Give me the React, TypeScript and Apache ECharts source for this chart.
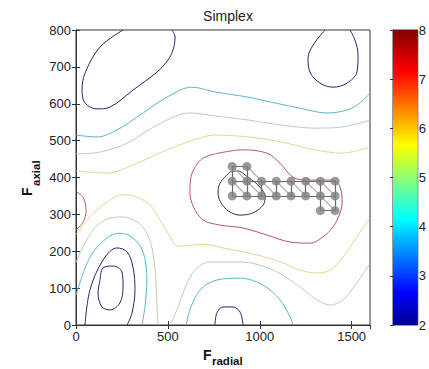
import React, { useEffect, useRef } from "react";
import * as echarts from "echarts";

type P = [number, number];

// ---- axis ticks ----
const xTickInterval = 500;
const xMax = 1600;
const yTickInterval = 100;
const yMax = 800;
const colorbarMin = 2;
const colorbarMax = 8;
const titleText = "Simplex";

// ---- contour lines (data units) ----
const navyTopLeft: P[] = [
  [256, 800], [131, 754], [49, 683], [33, 637], [49, 602], [114, 586], [185, 591],
  [310, 637], [441, 686], [501, 719], [528, 746], [539, 781], [522, 800],
];
const navyTopRight: P[] = [
  [1355, 800], [1290, 759], [1263, 724], [1273, 686], [1328, 656], [1399, 645],
  [1475, 656], [1529, 686], [1535, 732], [1518, 773], [1491, 800],
];
const navyBottomOuter: P[] = [
  [49, 0], [76, 95], [147, 176], [223, 209], [278, 198], [310, 157], [321, 95], [305, 33], [278, 0],
];
const navyBottomInner: P[] = [
  [131, 122], [147, 155], [201, 160], [250, 144], [256, 103], [239, 60], [185, 41], [141, 49], [120, 87], [131, 122],
];
const navyBottomMid: P[] = [
  [756, 0], [767, 33], [800, 49], [854, 49], [893, 35], [909, 0],
];
const cyanUpper: P[] = [
  [0, 515], [114, 510], [223, 529], [365, 575], [495, 618], [631, 645], [756, 632],
  [936, 618], [1056, 605], [1219, 588], [1366, 575], [1475, 583], [1540, 600], [1600, 629],
];
const cyanLowerLeft: P[] = [
  [0, 80], [76, 184], [169, 236], [239, 249], [310, 236], [365, 198], [386, 122], [375, 49], [359, 0],
];
const cyanLowerMid: P[] = [
  [600, 0], [620, 41], [675, 95], [767, 122], [893, 127], [1018, 108], [1110, 68], [1165, 22], [1181, 0],
];
const greenUpper: P[] = [
  [0, 464], [131, 469], [277, 493], [441, 542], [620, 575], [756, 567], [936, 556],
  [1121, 542], [1301, 534], [1448, 537], [1600, 556],
];
const greenLowerLeft: P[] = [
  [0, 170], [93, 258], [185, 290], [256, 293], [332, 279], [386, 249], [419, 195], [435, 122], [441, 49], [446, 0],
];
const greenLowerMid: P[] = [
  [515, 0], [560, 55], [610, 120], [660, 155], [729, 171], [893, 171], [1072, 149], [1219, 103],
  [1312, 68], [1382, 54], [1453, 68], [1529, 114], [1600, 168],
];
const yellowUpper: P[] = [
  [0, 418], [169, 412], [310, 434], [495, 475], [675, 507], [756, 515], [936, 510],
  [1121, 496], [1301, 475], [1448, 466], [1600, 483],
];
const yellowLower: P[] = [
  [0, 245], [76, 293], [169, 334], [256, 353], [332, 347], [403, 325], [457, 285], [512, 239],
  [550, 214], [604, 215], [700, 219], [800, 209], [985, 190], [1127, 168], [1219, 149],
  [1312, 141], [1382, 149], [1453, 184], [1529, 239], [1600, 290],
];
const redLeft: P[] = [
  [0, 362], [40, 345], [55, 310], [40, 280], [0, 258],
];
const redMain: P[] = [
  [756, 464], [909, 475], [1039, 466], [1110, 439], [1181, 401], [1257, 393], [1399, 393],
  [1437, 374], [1448, 331], [1437, 304], [1399, 266], [1344, 239], [1273, 222], [1165, 225],
  [1039, 244], [909, 263], [784, 271], [691, 285], [640, 320], [620, 360], [625, 400],
  [650, 430], [690, 452], [756, 464],
];
const darkInner: P[] = [
  [838, 415], [784, 385], [773, 358], [811, 317], [893, 298], [963, 304], [1018, 325],
  [1029, 347], [1001, 374], [936, 401], [876, 418], [838, 415],
];

// ---- simplex vertices and edges ----
const simplexPoints: P[] = [
  [850, 430], [930, 430],
  [850, 390], [930, 390], [1010, 390], [1090, 390], [1170, 390], [1250, 390], [1330, 390], [1410, 390],
  [850, 350], [930, 350], [1010, 350], [1090, 350], [1170, 350], [1250, 350], [1330, 350], [1410, 350],
  [1330, 310], [1410, 310],
];
const simplexEdges: [number, number, number, number][] = [
  [850, 430, 930, 430],
  [850, 390, 930, 390], [930, 390, 1010, 390], [1010, 390, 1090, 390], [1090, 390, 1170, 390],
  [1170, 390, 1250, 390], [1250, 390, 1330, 390], [1330, 390, 1410, 390],
  [850, 350, 930, 350], [930, 350, 1010, 350], [1010, 350, 1090, 350], [1090, 350, 1170, 350],
  [1170, 350, 1250, 350], [1250, 350, 1330, 350], [1330, 350, 1410, 350],
  [1330, 310, 1410, 310],
  [850, 430, 850, 390], [930, 430, 930, 390],
  [850, 390, 850, 350], [930, 390, 930, 350], [1010, 390, 1010, 350], [1090, 390, 1090, 350],
  [1170, 390, 1170, 350], [1250, 390, 1250, 350], [1330, 390, 1330, 350], [1410, 390, 1410, 350],
  [1330, 350, 1330, 310], [1410, 350, 1410, 310],
];
const simplexDiagonals: [number, number, number, number][] = [
  [850, 430, 930, 390], [930, 430, 1010, 390],
  [850, 390, 930, 350], [930, 390, 1010, 350], [1010, 390, 1090, 350], [1090, 390, 1170, 350],
  [1170, 390, 1250, 350], [1250, 390, 1330, 350], [1330, 390, 1410, 350],
  [1330, 350, 1410, 310],
];

const COLORS = {
  navy: "#26266a",
  cyan: "#58b9c4",
  green: "#b4d4b0",
  yellow: "#e2d88e",
  red: "#b45a5a",
  dark: "#3e3030",
};

const contourGroups: { color: string; paths: P[][] }[] = [
  { color: COLORS.navy, paths: [navyTopLeft, navyTopRight, navyBottomOuter, navyBottomInner, navyBottomMid] },
  { color: COLORS.cyan, paths: [cyanUpper, cyanLowerLeft, cyanLowerMid] },
  { color: COLORS.green, paths: [greenUpper, greenLowerLeft, greenLowerMid] },
  { color: COLORS.yellow, paths: [yellowUpper, yellowLower] },
  { color: COLORS.red, paths: [redLeft, redMain] },
  { color: COLORS.dark, paths: [darkInner] },
];

const FONT = "'Liberation Sans', Arial, Helvetica, sans-serif";

export default function App() {
  const ref = useRef<HTMLDivElement>(null);

  useEffect(() => {
    if (!ref.current) return;
    const chart = echarts.init(ref.current, undefined, { renderer: "svg" });

    const contourSeries: any[] = [];
    contourGroups.forEach((g) => {
      g.paths.forEach((path) => {
        contourSeries.push({
          type: "line",
          xAxisIndex: 0,
          yAxisIndex: 0,
          data: path,
          showSymbol: false,
          symbol: "none",
          smooth: 0.35,
          silent: true,
          clip: true,
          lineStyle: { color: g.color, width: 1 },
          z: 2,
        });
      });
    });

    const jet = [
      { offset: 0, color: "#800000" },
      { offset: 0.14, color: "#ff0000" },
      { offset: 0.39, color: "#ffff00" },
      { offset: 0.64, color: "#00ffff" },
      { offset: 0.89, color: "#0000ff" },
      { offset: 1, color: "#00008f" },
    ];

    const axisLineStyle = { color: "#333", width: 1 };
    const plain = (v: number) => String(v);

    chart.setOption({
      animation: false,
      backgroundColor: "#fff",
      title: {
        text: titleText,
        left: 223,
        top: 4,
        textAlign: "center",
        textStyle: { fontFamily: FONT, fontSize: 14, fontWeight: "normal", color: "#222" },
      },
      grid: [
        { left: 76, top: 30, width: 294, height: 295, show: true, borderColor: "#333", borderWidth: 1, backgroundColor: "#fff" },
        { left: 393, top: 30, width: 30, height: 295, show: true, borderColor: "#333", borderWidth: 1 },
      ],
      xAxis: [
        {
          gridIndex: 0, type: "value", min: 0, max: xMax, interval: xTickInterval, position: "bottom",
          axisLine: { show: true, lineStyle: axisLineStyle },
          axisTick: { show: true, inside: true, length: 4, lineStyle: axisLineStyle },
          axisLabel: { show: true, fontFamily: FONT, fontSize: 13, color: "#222", margin: 5, showMaxLabel: false, formatter: plain },
          splitLine: { show: false },
        },
        {
          gridIndex: 0, type: "value", min: 0, max: xMax, interval: xTickInterval, position: "top",
          axisLine: { show: true, lineStyle: axisLineStyle },
          axisTick: { show: true, inside: true, length: 4, lineStyle: axisLineStyle },
          axisLabel: { show: false },
          splitLine: { show: false },
        },
        {
          gridIndex: 1, type: "value", min: 0, max: 1, show: false,
        },
      ],
      yAxis: [
        {
          gridIndex: 0, type: "value", min: 0, max: yMax, interval: yTickInterval, position: "left",
          axisLine: { show: true, lineStyle: axisLineStyle },
          axisTick: { show: true, inside: true, length: 4, lineStyle: axisLineStyle },
          axisLabel: { show: true, fontFamily: FONT, fontSize: 13, color: "#222", margin: 5, formatter: plain },
          splitLine: { show: false },
        },
        {
          gridIndex: 0, type: "value", min: 0, max: yMax, interval: yTickInterval, position: "right",
          axisLine: { show: true, lineStyle: axisLineStyle },
          axisTick: { show: true, inside: true, length: 4, lineStyle: axisLineStyle },
          axisLabel: { show: false },
          splitLine: { show: false },
        },
        {
          gridIndex: 1, type: "value", min: colorbarMin, max: colorbarMax, interval: 1, position: "right",
          axisLine: { show: true, lineStyle: axisLineStyle },
          axisTick: { show: true, inside: true, length: 3, lineStyle: axisLineStyle },
          axisLabel: { show: true, fontFamily: FONT, fontSize: 13, color: "#222", margin: 1, formatter: plain },
          splitLine: { show: false },
        },
      ],
      graphic: [
        {
          type: "text", x: 203, y: 348,
          style: { text: "F", fontFamily: FONT, fontSize: 14, fontWeight: "bold", fill: "#111", textVerticalAlign: "top", textAlign: "left" },
        },
        {
          type: "text", x: 212, y: 355,
          style: { text: "radial", fontFamily: FONT, fontSize: 11.5, fontWeight: "bold", fill: "#111", textVerticalAlign: "top", textAlign: "left" },
        },
        {
          type: "text", x: 34, y: 196, rotation: Math.PI / 2,
          style: { text: "F", fontFamily: FONT, fontSize: 14, fontWeight: "bold", fill: "#111", textVerticalAlign: "bottom", textAlign: "left" },
        },
        {
          type: "text", x: 42, y: 186, rotation: Math.PI / 2,
          style: { text: "axial", fontFamily: FONT, fontSize: 11.5, fontWeight: "bold", fill: "#111", textVerticalAlign: "bottom", textAlign: "left" },
        },
      ],
      series: [
        ...contourSeries,
        {
          type: "lines",
          coordinateSystem: "cartesian2d",
          xAxisIndex: 0,
          yAxisIndex: 0,
          silent: true,
          z: 3,
          lineStyle: { color: "#a8a8a8", width: 1.2, opacity: 1 },
          data: simplexDiagonals.map((e) => ({ coords: [[e[0], e[1]], [e[2], e[3]]] })),
        },
        {
          type: "lines",
          coordinateSystem: "cartesian2d",
          xAxisIndex: 0,
          yAxisIndex: 0,
          silent: true,
          z: 4,
          lineStyle: { color: "#6a6a6a", width: 1.2, opacity: 1 },
          data: simplexEdges.map((e) => ({ coords: [[e[0], e[1]], [e[2], e[3]]] })),
        },
        {
          type: "scatter",
          xAxisIndex: 0,
          yAxisIndex: 0,
          symbol: "circle",
          symbolSize: 9,
          silent: true,
          z: 5,
          itemStyle: { color: "#808080" },
          data: simplexPoints,
        },
        {
          type: "custom",
          xAxisIndex: 2,
          yAxisIndex: 2,
          silent: true,
          data: [[0, colorbarMin, 1, colorbarMax]],
          renderItem: (params: any, api: any) => {
            const p0 = api.coord([api.value(0), api.value(3)]);
            const p1 = api.coord([api.value(2), api.value(1)]);
            return {
              type: "rect",
              shape: { x: p0[0], y: p0[1], width: p1[0] - p0[0], height: p1[1] - p0[1] },
              style: { fill: new echarts.graphic.LinearGradient(0, 0, 0, 1, jet) },
            };
          },
          z: 1,
        },
      ],
    });

    return () => {
      chart.dispose();
    };
  }, []);

  return (
    <div
      ref={ref}
      style={{ position: "fixed", left: 0, top: 0, width: 429, height: 369, background: "#fff" }}
    />
  );
}
